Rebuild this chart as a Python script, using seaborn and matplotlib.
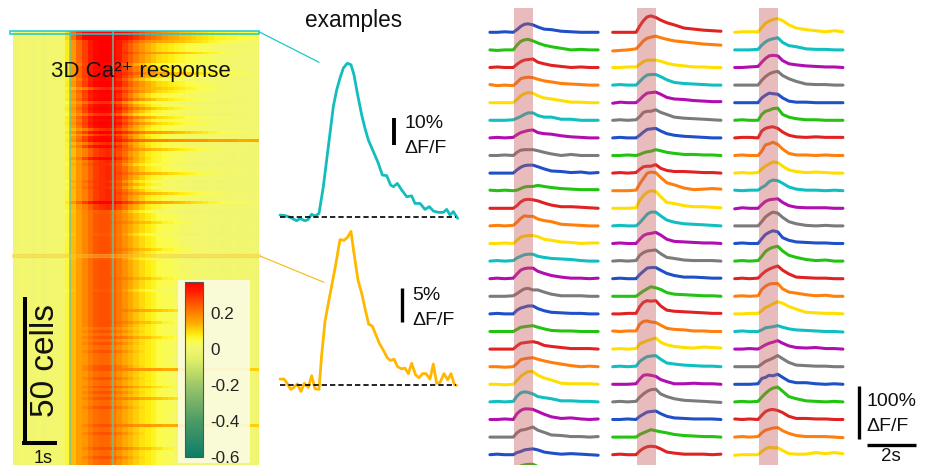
import numpy as np
import pandas as pd
import matplotlib
matplotlib.use("Agg")
import matplotlib.pyplot as plt
from matplotlib.colors import LinearSegmentedColormap
from matplotlib.patches import Rectangle
import seaborn as sns

sns.set_theme(style="white")
plt.rcParams['font.family'] = ['Liberation Sans', 'DejaVu Sans']
plt.rcParams['mathtext.default'] = 'regular'

# ---------- heatmap data (dF/F) ----------
pre = [0.00, 0.01, 0.01, 0.00, 0.01, 0.00, 0.01, 0.01, 0.01]
p0 = [.10,.22,.30,.36,.37,.37,.37,.37,.37,.36,.35,.33,.30,.27,.24,.22,.20,.18,.16,.15,.13,.12,.11,.10,.09,.08,.07,.07,.06,.06,.05,.05,.05,.04]
p1 = [.08,.17,.23,.28,.33,.36,.37,.37,.36,.33,.28,.24,.20,.17,.14,.12,.10,.09,.08,.07,.06,.05,.05,.04,.03,.03,.02,.02,.02,.01,.01,.01,.01,.01]
p2 = [.07,.16,.21,.27,.32,.35,.36,.36,.35,.30,.25,.20,.15,.12,.09,.07,.06,.05,.04,.03,.03,.02,.02,.01,.01,.01,.01,.01,.01,.00,.01,.00,.01,.00]
p3 = [.08,.17,.23,.28,.33,.36,.37,.37,.36,.33,.30,.27,.24,.22,.21,.20,.19,.19,.18,.18,.18,.17,.17,.17,.17,.16,.16,.16,.16,.16,.15,.15,.15,.15]
p4 = [.06,.13,.17,.20,.24,.28,.30,.31,.30,.26,.22,.17,.14,.11,.08,.07,.06,.05,.04,.03,.03,.02,.02,.01,.01,.01,.01,.01,.00,.00,.01,.00,.00,.01]
p5 = [.06,.13,.17,.20,.24,.28,.30,.31,.30,.27,.24,.21,.18,.16,.14,.13,.12,.11,.10,.09,.08,.07,.06,.05,.04,.03,.03,.02,.02,.01,.01,.01,.00,.01]
p6 = [.06,.13,.16,.19,.22,.25,.26,.26,.24,.21,.18,.15,.12,.10,.08,.07,.05,.04,.04,.03,.02,.02,.01,.01,.01,.00,.01,.00,.00,.01,.00,.00,.01,.00]
p7 = [.06,.13,.16,.19,.22,.25,.26,.26,.24,.21,.20,.19,.18,.17,.17,.16,.16,.15,.15,.15,.14,.14,.14,.14,.13,.13,.13,.13,.12,.12,.12,.12,.11,.11]
p8 = [.06,.13,.16,.17,.20,.22,.23,.23,.21,.18,.15,.13,.11,.09,.08,.07,.05,.04,.03,.02,.02,.01,.01,.01,.00,.01,.00,.00,.00,.00,.01,.00,.01,.00]
p9 = [.05,.14,.18,.22,.26,.29,.30,.30,.28,.24,.18,.14,.10,.08,.06,.04,.03,.02,.01,.01,.00,.00,-.01,-.01,-.01,.00,.00,-.01,-.01,.00,.00,.00,.00,.00]
p10 = [.08,.17,.23,.28,.33,.36,.37,.37,.36,.33,.30,.27,.23,.20,.18,.17,.16,.15,.14,.13,.12,.11,.10,.09,.08,.07,.06,.05,.04,.04,.03,.03,.02,.02]
p11 = [.06,.13,.16,.19,.22,.25,.26,.26,.24,.21,.20,.18,.17,.15,.14,.13,.12,.11,.10,.09,.08,.07,.06,.05,.05,.04,.04,.03,.03,.02,.02,.02,.01,.01]
p12 = [.05,.12,.16,.19,.22,.24,.25,.25,.23,.20,.16,.12,.09,.07,.05,.03,.02,.01,.01,.00,.00,-.01,-.01,-.01,.00,.00,-.01,-.01,.00,.00,.00,.00,.00,.00]
p13 = [.06,.13,.16,.19,.22,.25,.26,.26,.25,.22,.20,.18,.15,.13,.12,.10,.09,.07,.06,.05,.04,.03,.02,.02,.01,.01,.01,.01,.00,.00,.01,.00,.00,.00]
profiles = [p0, p1, p2, p3, p4, p5, p6, p7, p8, p9, p10, p11, p12, p13]
row_profile = [
    0,0,0,10,1,1,1,10,1,1,
    1,2,1,1,10,1,2,1,1,5,
    1,2,2,1,9,2,1,2,9,1,
    2,1,2,4,10,4,2,3,4,2,
    5,4,4,2,4,9,4,4,5,4,
    4,9,4,9,4,5,4,4,10,4,
    4,12,6,6,6,13,6,6,6,12,
    6,6,6,6,13,6,6,12,6,6,
    6,6,6,6,13,6,6,6,12,6,
    6,6,6,6,6,11,6,6,6,13,
    6,8,6,8,13,8,6,8,8,6,
    8,8,8,8,6,7,8,8,6,8,
    8,13,8,6,8,11,8,8,6,8,
    8,8,8,8,7,8,8,6,8,8,
    8,8,13,8,8,6,8,8]
cbar_ticks = [0.2, 0, -0.2, -0.4, -0.6]
cbar_labels = ['0.2', '0', '-0.2', '-0.4', '-0.6']

# ---------- example traces (% dF/F) ----------
cyan_x = [3,4.5,6,8,9,10.5,11.3,12.5,13.5,14.7,16,17,18,19,20,21,22,23.2,24.3,25.2,26.2,27.5,28.5,29.5,31,32.5,33.7,35,36.2,37,38.2,39.5,41,42.5,43.5,45,46.5,47.8,49,50.5,52,53,54,55,56.3]
cyan_y = [.6,.4,-.2,-1.5,-.7,-1.5,-1.2,.9,.2,1.2,11.1,21,30.9,40.8,46.9,51.3,55,56.8,56.2,52.5,45.7,37.7,32.7,28.4,24.1,19.8,15.4,15.2,11.7,11.1,12.3,9.9,7.4,7.7,4.9,4.9,2.7,3.7,2.1,1.6,1.6,2.7,.6,1.9,-.6]
amber_x = [3,4.2,5,6.2,7.2,8.2,9.3,10.3,11.5,12.5,13.5,14.7,15.5,16.5,17.8,19.5,21,22.2,23.2,24.3,25.2,26.4,27.5,28.5,29.6,30.7,31.8,32.8,34,35.2,36.2,37.2,38.3,39.5,40.5,41.5,42.5,43.7,44.7,45.8,46.8,48,49,50,51,52.2,53.3,54.3,55.3,56]
amber_y = [.9,.9,.4,-.6,-.3,.2,-.9,.3,-.3,1.4,-.5,-.6,4.4,9.3,12.7,17,21.2,21.1,21.5,22.4,19.2,15.3,13.4,11.2,8.9,8.6,7.3,6.1,5.1,4,3.6,3.8,2.7,2.4,2.5,1.7,3.2,1.5,1.1,1.7,1.7,.9,3.1,.3,.4,1.7,.8,1.7,.1,0]

# ---------- trace columns (% dF/F), time in s from stimulus onset ----------
trace_t = [-1.0,-0.7,-0.4,-0.05,0.1,0.25,0.4,0.55,0.75,0.95,1.2,1.5,1.9,2.3,2.7,3.05,3.4]
col_a = [
 [0,0,1,0,5,11,15,16,14,10,6,5,2,1,0,0,0],
 [0,-1,0,0,9,16,19,20,17,13,9,6,3,0,1,0,0],
 [0,1,0,0,6,11,14,15,16,10,7,4,2,0,1,0,0],
 [1,-1,0,-1,5,12,14,15,14,11,8,6,3,2,1,0,0],
 [0,0,0,0,6,13,17,19,18,13,9,7,4,1,1,0,0],
 [0,0,0,1,4,7,11,14,14,9,6,6,2,2,0,0,0],
 [0,1,0,1,6,10,12,14,15,10,8,7,4,2,1,0,0],
 [0,0,1,0,6,10,11,11,11,9,6,3,0,2,0,0,0],
 [0,0,0,0,6,11,14,15,15,12,8,4,3,1,2,0,1],
 [1,0,1,0,1,4,7,8,8,10,8,6,4,3,2,2,2],
 [0,0,0,0,5,12,16,17,16,14,10,6,3,3,2,1,0],
 [0,1,0,1,7,14,19,18,18,13,10,8,3,2,1,0,0],
 [0,0,1,0,6,12,14,15,15,13,8,6,3,2,0,1,1],
 [0,1,0,1,6,9,12,13,13,9,7,5,4,3,1,0,0],
 [0,1,0,1,9,16,19,20,20,14,10,6,3,1,1,0,1],
 [0,0,0,1,5,10,14,15,12,12,8,4,1,1,1,0,0],
 [0,1,0,0,7,11,13,15,15,10,6,3,2,1,1,0,0],
 [0,0,0,0,4,8,9,10,11,8,5,2,1,1,0,0,0],
 [0,0,0,0,6,11,12,13,14,12,7,5,3,1,1,1,0],
 [0,0,-1,0,6,13,15,16,17,14,11,8,5,2,0,1,0],
 [0,0,-1,0,7,15,20,24,24,17,12,8,2,1,1,1,0],
 [0,1,0,1,11,17,19,18,15,10,8,6,2,2,1,1,0],
 [0,0,1,0,11,17,20,20,19,15,10,5,2,3,1,0,1],
 [0,0,0,0,8,13,14,16,19,13,9,4,3,1,1,0,1],
 [0,1,0,0,4,6,9,10,11,9,5,3,1,2,1,0,-1],
 [0,0,0,0,7,12,14,15,15,11,8,5,3,1,1,0,0],
]
col_b = [
 [0,0,0,0,12,22,29,31,28,23,18,14,8,6,4,3,2],
 [-2,-1,0,2,9,17,22,24,26,23,20,17,15,13,11,10,9],
 [0,0,1,1,6,11,14,14,14,12,8,5,3,1,1,0,0],
 [0,1,0,0,7,14,19,20,20,16,10,5,3,2,1,0,0],
 [-1,1,0,0,6,13,18,19,20,16,10,7,6,4,3,2,2],
 [0,1,0,1,7,15,17,17,20,15,11,6,4,3,2,1,0],
 [0,1,0,0,5,11,16,17,18,13,8,5,3,2,1,0,0],
 [0,0,1,0,2,5,7,8,11,9,6,4,2,2,1,1,0],
 [0,1,0,1,7,12,13,13,16,9,5,3,3,2,1,1,0],
 [0,0,0,1,13,23,33,35,34,25,15,11,5,2,3,4,3],
 [0,0,0,1,15,24,30,33,32,22,11,9,5,3,3,2,1],
 [0,1,0,0,6,14,22,26,26,19,11,7,4,3,2,1,0],
 [0,1,0,0,8,15,18,19,21,16,8,4,3,2,1,1,0],
 [0,1,0,1,11,16,19,20,21,14,7,5,2,1,1,1,0],
 [0,1,0,0,8,14,20,21,21,16,10,6,3,3,2,1,1],
 [0,0,0,0,5,10,14,18,16,13,7,4,3,2,1,1,0],
 [0,0,1,1,14,22,25,24,25,15,7,5,4,3,2,1,1],
 [1,0,1,1,14,19,20,18,17,12,6,4,3,1,1,0,0],
 [0,1,0,1,10,13,16,18,21,13,8,5,3,2,4,3,2],
 [0,1,0,1,10,15,19,20,21,14,7,5,3,2,1,1,0],
 [0,0,0,1,10,17,18,17,15,9,5,1,1,2,1,1,0],
 [0,1,0,1,9,15,20,23,24,15,10,6,3,2,1,0,-1],
 [0,0,1,0,6,10,14,15,16,11,6,3,2,1,1,1,0],
 [0,0,0,0,5,8,11,14,12,10,8,5,3,2,1,1,0],
 [0,1,0,0,7,12,15,16,15,11,5,3,1,1,1,0,1],
 [0,0,0,1,5,9,10,10,9,6,3,2,1,1,1,0,0],
]
col_c = [
 [0,1,1,1,9,17,21,24,26,22,14,8,5,3,1,3,1],
 [0,0,0,1,9,15,19,21,23,14,8,6,2,1,1,0,0],
 [0,0,1,2,10,17,22,23,22,13,7,5,3,2,1,1,0],
 [0,0,0,0,9,16,21,24,26,18,12,7,2,1,1,0,0],
 [0,0,0,0,9,14,18,17,16,9,3,1,1,0,0,0,0],
 [0,1,0,0,11,17,19,22,23,11,6,3,1,1,0,0,0],
 [0,1,1,0,13,18,20,21,18,11,5,2,1,2,1,1,1],
 [0,1,0,0,8,20,22,25,21,12,4,1,1,0,1,0,0],
 [0,1,0,1,8,13,17,21,20,13,6,3,1,2,1,0,0],
 [1,0,1,1,6,10,17,20,19,14,7,3,1,1,0,1,0],
 [-1,1,0,0,7,13,16,17,18,11,5,2,1,1,1,0,0],
 [0,0,0,0,8,17,22,26,24,16,8,4,1,0,1,0,0],
 [0,1,0,0,9,17,21,24,22,11,6,3,2,1,1,0,0],
 [0,1,0,1,9,18,23,26,28,19,11,7,3,1,2,0,0],
 [0,1,0,1,8,14,18,21,24,16,9,3,2,1,1,0,0],
 [0,1,0,1,13,19,23,24,24,14,8,6,3,1,2,0,0],
 [0,0,1,1,6,12,15,19,23,20,14,9,3,2,1,1,0],
 [0,1,0,0,3,7,8,9,11,8,5,3,2,1,0,0,-1],
 [0,0,1,0,4,8,11,13,16,11,6,3,2,3,1,1,0],
 [0,0,0,0,5,10,13,16,21,15,8,3,2,1,1,0,0],
 [0,0,0,1,11,13,17,16,19,13,6,3,3,1,0,1,0],
 [0,1,0,1,9,16,22,26,28,20,10,6,2,1,0,1,0],
 [1,0,1,0,8,15,18,19,17,13,6,2,2,1,1,0,0],
 [0,1,0,1,8,13,15,17,18,12,7,3,1,1,1,0,-1],
 [-1,0,0,0,6,11,14,13,13,8,2,1,1,4,2,4,2],
 [0,0,0,0,4,7,8,9,8,5,3,2,1,1,1,0,0],
]
color_cycle = ['#1F50C8', '#22C411', '#E02222', '#FF7F0E', '#FFDF00', '#10BFC2', '#B00EB0', '#7B7B7B']
col_start_colour = [0, 2, 4]

W, H = 928, 465
fig = plt.figure(figsize=(W / 100, H / 100), dpi=100)
fig.patch.set_facecolor('white')


def px_axes(x0, y0, x1, y1, **kw):
    return fig.add_axes([x0 / W, 1 - y1 / H, (x1 - x0) / W, (y1 - y0) / H], **kw)


# ---------- heatmap ----------
cmap_vmin, cmap_vmax = -0.6, 0.37
stops = [(-0.6, '#0E7D69'), (-0.4, '#4B9B64'), (-0.2, '#9CC76B'), (-0.06, '#DFEF66'),
         (0.0, '#F1F670'), (0.02, '#F4F868'), (0.05, '#FCFC45'), (0.08, '#FFEE10'),
         (0.14, '#FFB000'), (0.24, '#FF6000'), (0.32, '#FF1E00'), (0.37, '#FF0000')]
cmap = LinearSegmentedColormap.from_list(
    'ca', [((v - cmap_vmin) / (cmap_vmax - cmap_vmin), c) for v, c in stops])
matrix = pd.DataFrame([pre + profiles[i] for i in row_profile])

ax_h = px_axes(13, 31, 259.5, 31 + 2.93 * len(row_profile), zorder=0)
cax = px_axes(185, 282.3, 203.3, 457.3, zorder=3)
sns.heatmap(matrix, ax=ax_h, cmap=cmap, vmin=cmap_vmin, vmax=cmap_vmax, cbar_ax=cax,
            xticklabels=False, yticklabels=False, rasterized=True)
cb = ax_h.collections[0].colorbar
cb.set_ticks(cbar_ticks)
cb.set_ticklabels(cbar_labels)
cb.ax.tick_params(length=0, pad=5, labelsize=12.3, labelcolor='#222222')
cb.outline.set_edgecolor('#555555')
cb.outline.set_linewidth(0.8)
cb.outline.set_visible(True)
for s in [9.9, 17.4]:
    ax_h.axvline(s, color='#5CC9A8', lw=1.1, alpha=0.9)

# ---------- overlay in pixel coordinates for annotation ----------
ov = px_axes(0, 0, W, H, zorder=2)
ov.set_xlim(0, W)
ov.set_ylim(H, 0)
ov.axis('off')
ov.patch.set_alpha(0)
ov.add_patch(Rectangle((177.7, 280), 72.3, 183, fc='#FBFCE2', ec='none', alpha=0.9))
ov.add_patch(Rectangle((10.5, 30.7), 249, 3.6, fc='none', ec='#1CC9CC', lw=1.1))
ov.add_patch(Rectangle((12, 253.5), 248, 3.6, fc='#F8C53A', ec='#F5C842', lw=0.8, alpha=0.4))
ov.plot([259.5, 319], [32, 62.3], color='#1CC9CC', lw=0.9)
ov.plot([260, 324], [256, 282.3], color='#F9BE2C', lw=0.9)
bar = dict(color='black', solid_capstyle='butt')
ov.plot([24.7, 24.7], [296.7, 443], lw=2.9, **bar)
ov.plot([21.7, 57.3], [443, 443], lw=2.9, **bar)
ov.plot([394.3, 394.3], [118, 145], lw=2.8, **bar)
ov.plot([401.7, 401.7], [287.7, 322], lw=2.4, **bar)
ov.plot([858.7, 858.7], [385.7, 439], lw=2.4, **bar)
ov.plot([866.7, 915.7], [445, 445], lw=2.4, **bar)
tk = dict(color='#111111', va='center', ha='left')
ov.text(51, 71, '3D Ca\u00b2\u207a response', fontsize=16, **tk)
ov.text(45.5, 360, '50 cells', fontsize=24, rotation=90, color='#111111', va='center', ha='center')
ov.text(34, 458, '1s', fontsize=13, **tk)
ov.text(305, 20, 'examples', fontsize=16.3, **tk)
ov.text(405, 123, '10%', fontsize=14, **tk)
ov.text(404, 148, '\u0394F/F', fontsize=14, **tk)
ov.text(412, 295.5, '5%', fontsize=14, **tk)
ov.text(412, 320, '\u0394F/F', fontsize=14, **tk)
ov.text(866.5, 401, '100%', fontsize=14, **tk)
ov.text(866, 426, '\u0394F/F', fontsize=14, **tk)
ov.text(881, 456.5, '2s', fontsize=13.5, **tk)


# ---------- example traces ----------
def example(x, y, colour, box, ylim):
    ax = px_axes(*box, zorder=1)
    sns.lineplot(x=x, y=y, ax=ax, color=colour, lw=2.0, errorbar=None, sort=False)
    ax.hlines(0, 3, 55.8, color='black', lw=1.2, linestyle=(0, (3.2, 1.8)))
    ax.set_xlim(0, 60)
    ax.set_ylim(*ylim)
    ax.axis('off')


example(cyan_x, cyan_y, '#12BDBD', (270, 40, 470, 230), (-4.93, 65.4))
example(amber_x, amber_y, '#FFB800', (270, 225, 470, 400), (-2.14, 23.33))

# ---------- trace columns ----------
PX_PER_PCT = 0.53
PX_PER_S = 24.6
SPACING = 17.6 / PX_PER_PCT
FIRST_BASE = 32.3
for col, first, start in zip([col_a, col_b, col_c], [514.5, 637.3, 759.3], col_start_colour):
    ax = px_axes(first - 30, 0, first + 100, H, zorder=1)
    long = pd.DataFrame([
        {'t': t, 'v': v - i * SPACING, 'trace': i}
        for i, trace in enumerate(col) for t, v in zip(trace_t, trace)])
    pal = {i: color_cycle[(start + i) % len(color_cycle)] for i in range(len(col))}
    sns.lineplot(data=long, x='t', y='v', hue='trace', palette=pal, ax=ax, lw=2.2,
                 legend=False, errorbar=None)
    ax.set_xlim(-30 / PX_PER_S, 100 / PX_PER_S)
    ax.set_ylim(-(H - FIRST_BASE) / PX_PER_PCT, FIRST_BASE / PX_PER_PCT)
    ax.axvspan(0, 0.75, ymin=0, ymax=1 - 8 / H, fc=(0.78, 0.35, 0.35), alpha=0.4, ec='none', zorder=5)
    ax.axis('off')

fig.savefig('out.png', dpi=100, facecolor='white')
